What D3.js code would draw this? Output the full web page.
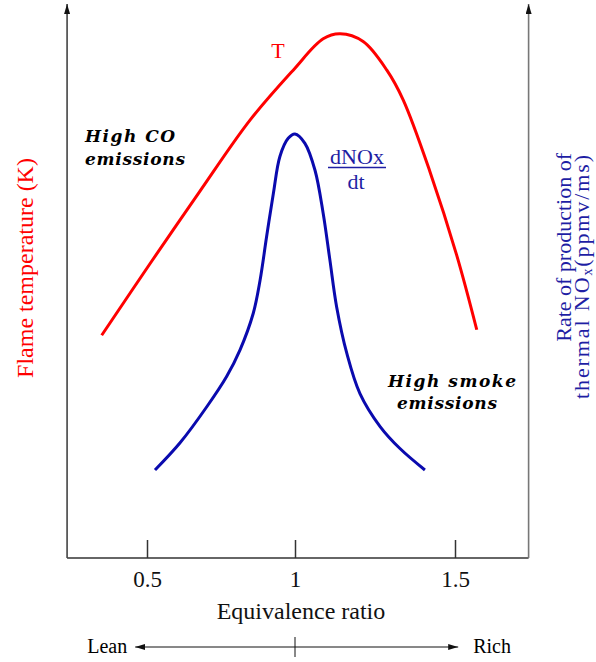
<!DOCTYPE html>
<html>
<head>
<meta charset="utf-8">
<script src="https://cdn.jsdelivr.net/npm/d3@7"></script>
<style>
  body { margin: 0; background: #fff; }
  svg text { font-family: "Liberation Serif", "Times New Roman", serif; }
</style>
</head>
<body>
<div id="chart"></div>
<script>
// equivalence ratio axis
const phiTicks = [0.5, 1, 1.5];
const tickLabels = ["0.5", "1", "1.5"];
const phiExtent = [0.23, 1.73];
const leanRich = [0.46, 1.51];

// flame temperature (relative units)
const tempPhi = [0.347, 0.51, 0.679, 0.848, 0.994, 1.088, 1.141, 1.213, 1.287, 1.338, 1.422, 1.505, 1.568];
const tempVals = [40.5, 53.5, 66.7, 79.6, 88.7, 94.4, 95.3, 93.9, 88.7, 83.3, 70.2, 55.1, 41.5];

// thermal NOx production rate (relative units)
const noxPhi = [0.527, 0.611, 0.702, 0.769, 0.814, 0.859, 0.882, 0.904, 0.927, 0.949, 0.977, 1.0, 1.031, 1.0625, 1.088, 1.109, 1.13, 1.162, 1.203, 1.266, 1.328, 1.406];
const noxVals = [16.0, 20.9, 27.5, 33.0, 37.8, 44.5, 50.5, 58.4, 66.3, 73.0, 76.3, 77.1, 75.4, 70.5, 62.7, 54.2, 45.7, 37.2, 29.9, 23.9, 19.9, 16.0];

const width = 596, height = 662;
const red = "#ff0000", blue = "#0a0aae", textBlue = "#1e1ea4", axisColor = "#333";

const svg = d3.select("#chart").append("svg")
  .attr("width", width)
  .attr("height", height)
  .style("background", "#fff");

// arrow marker
svg.append("defs").append("marker")
  .attr("id", "arrow")
  .attr("viewBox", "0 0 10 10")
  .attr("refX", 10).attr("refY", 5)
  .attr("markerWidth", 10).attr("markerHeight", 6)
  .attr("markerUnits", "userSpaceOnUse")
  .attr("preserveAspectRatio", "none")
  .attr("orient", "auto-start-reverse")
  .append("path").attr("d", "M0,0 L10,5 L0,10 z").attr("fill", "#111");

const x = d3.scaleLinear().domain(phiTicks).range([147, 295, 455]);
const yT = d3.scaleLinear().domain([0, 100]).range([558, 8]);
const yN = d3.scaleLinear().domain([0, 100]).range([558, 8]);

// frame
svg.append("line")
  .attr("x1", x(phiExtent[0])).attr("x2", x(phiExtent[1]))
  .attr("y1", yT(0)).attr("y2", yT(0))
  .attr("stroke", axisColor).attr("stroke-width", 1.5);
svg.append("line")
  .attr("x1", x(phiExtent[0])).attr("x2", x(phiExtent[0]))
  .attr("y1", yT(0)).attr("y2", 4)
  .attr("stroke", "#444").attr("stroke-width", 1.6)
  .attr("marker-end", "url(#arrow)");
svg.append("line")
  .attr("x1", x(phiExtent[1])).attr("x2", x(phiExtent[1]))
  .attr("y1", yN(0)).attr("y2", 4)
  .attr("stroke", "#777").attr("stroke-width", 1.6)
  .attr("marker-end", "url(#arrow)");

// x axis
svg.append("g")
  .attr("transform", `translate(0,${yT(0)})`)
  .call(d3.axisBottom(x)
    .tickValues(phiTicks)
    .tickFormat((d, i) => tickLabels[i])
    .tickSizeInner(-18)
    .tickSizeOuter(0)
    .tickPadding(13))
  .call(g => g.select(".domain").remove())
  .call(g => g.selectAll(".tick line").attr("stroke", axisColor).attr("stroke-width", 1.5))
  .call(g => g.selectAll(".tick text")
    .attr("fill", "#111")
    .style("font-size", "23px")
    .style("font-family", "'Liberation Serif', serif"));

svg.append("text")
  .attr("x", x(1) + 6).attr("y", 619)
  .attr("text-anchor", "middle")
  .style("font-size", "24px")
  .attr("fill", "#111")
  .text("Equivalence ratio");

// lean / rich arrow
const lrY = 647;
svg.append("line")
  .attr("x1", x(leanRich[0])).attr("x2", x(leanRich[1]))
  .attr("y1", lrY).attr("y2", lrY)
  .attr("stroke", "#111").attr("stroke-width", 1)
  .attr("marker-start", "url(#arrow)")
  .attr("marker-end", "url(#arrow)");
svg.append("line")
  .attr("x1", x(1)).attr("x2", x(1))
  .attr("y1", lrY - 10).attr("y2", lrY + 10)
  .attr("stroke", "#111").attr("stroke-width", 1);
svg.append("text")
  .attr("x", x(leanRich[0]) - 8).attr("y", lrY + 6)
  .attr("text-anchor", "end")
  .style("font-size", "20px")
  .text("Lean");
svg.append("text")
  .attr("x", x(leanRich[1]) + 15).attr("y", lrY + 6)
  .attr("text-anchor", "start")
  .style("font-size", "20px")
  .text("Rich");

// curves
const tempLine = d3.line()
  .x((d, i) => x(tempPhi[i]))
  .y(d => yT(d))
  .curve(d3.curveCatmullRom.alpha(0.5));
svg.append("path")
  .datum(tempVals)
  .attr("d", tempLine)
  .attr("fill", "none")
  .attr("stroke", red)
  .attr("stroke-width", 3);

const noxLine = d3.line()
  .x((d, i) => x(noxPhi[i]))
  .y(d => yN(d))
  .curve(d3.curveCatmullRom.alpha(0.5));
svg.append("path")
  .datum(noxVals)
  .attr("d", noxLine)
  .attr("fill", "none")
  .attr("stroke", blue)
  .attr("stroke-width", 3);

// axis titles
svg.append("text")
  .attr("transform", "translate(33,268) rotate(-90)")
  .attr("text-anchor", "middle")
  .attr("fill", red)
  .style("font-size", "24px")
  .text("Flame temperature (K)");

svg.append("text")
  .attr("transform", "translate(571,153) rotate(-90)")
  .attr("text-anchor", "end")
  .attr("fill", textBlue)
  .style("font-size", "22px")
  .text("Rate of production of");
const r2 = svg.append("text")
  .attr("transform", "translate(589,155) rotate(-90)")
  .attr("text-anchor", "end")
  .attr("fill", textBlue)
  .attr("textLength", 244)
  .attr("lengthAdjust", "spacing")
  .style("font-size", "22px");
r2.append("tspan").text("thermal NO");
r2.append("tspan").attr("dy", 3).style("font-size", "14px").text("x");
r2.append("tspan").attr("dy", -3).text("(ppmv/ms)");

// curve labels
svg.append("text")
  .attr("x", 278).attr("y", 58)
  .attr("text-anchor", "middle")
  .attr("fill", red)
  .style("font-size", "22px")
  .text("T");

svg.append("text")
  .attr("x", 357).attr("y", 164)
  .attr("text-anchor", "middle")
  .attr("fill", textBlue)
  .style("font-size", "22px")
  .text("dNOx");
svg.append("line")
  .attr("x1", 328).attr("x2", 386)
  .attr("y1", 167.5).attr("y2", 167.5)
  .attr("stroke", textBlue).attr("stroke-width", 1.3);
svg.append("text")
  .attr("x", 356).attr("y", 189)
  .attr("text-anchor", "middle")
  .attr("fill", textBlue)
  .style("font-size", "22px")
  .text("dt");

// annotations
const noteStyle = (t, len) => t
  .style("font-family", "'DejaVu Serif', serif")
  .style("font-weight", "bold")
  .style("font-style", "italic")
  .style("font-size", "17px")
  .attr("textLength", len)
  .attr("lengthAdjust", "spacing")
  .attr("fill", "#000");
noteStyle(svg.append("text").attr("x", 85).attr("y", 142).text("High CO"), 90);
noteStyle(svg.append("text").attr("x", 85).attr("y", 165).text("emissions"), 100);
noteStyle(svg.append("text").attr("x", 388).attr("y", 387).text("High smoke"), 128);
noteStyle(svg.append("text").attr("x", 397).attr("y", 409).text("emissions"), 100);
</script>
</body>
</html>
